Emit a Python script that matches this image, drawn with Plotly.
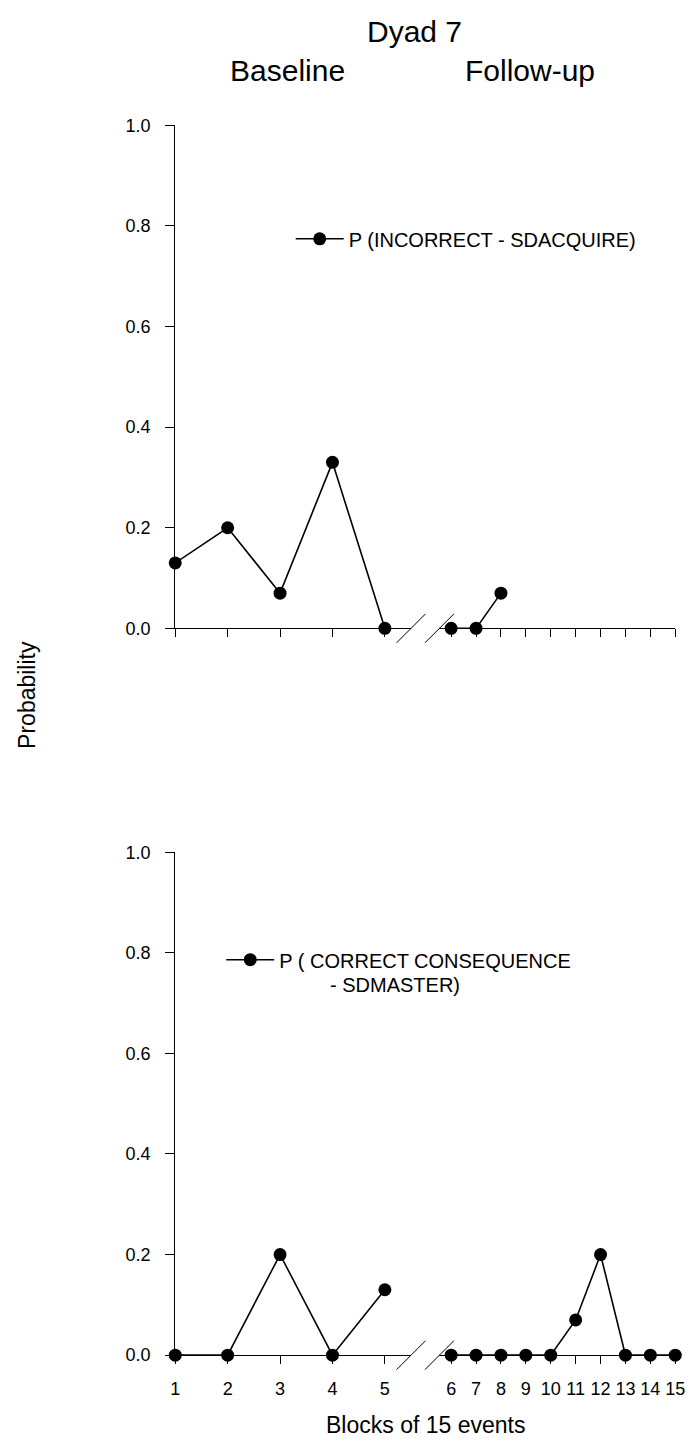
import plotly.graph_objects as go

# ---------------- data ----------------
blocks_baseline = [1, 2, 3, 4, 5]
blocks_followup_top = [6, 7, 8]
blocks_followup = [6, 7, 8, 9, 10, 11, 12, 13, 14, 15]

incorrect_baseline = [0.13, 0.20, 0.07, 0.33, 0.00]
incorrect_followup = [0.00, 0.00, 0.07]

correct_baseline = [0.00, 0.00, 0.20, 0.00, 0.13]
correct_followup = [0.00, 0.00, 0.00, 0.00, 0.00, 0.07, 0.20, 0.00, 0.00, 0.00]

y_ticks = [0.0, 0.2, 0.4, 0.6, 0.8, 1.0]
y_ticklabels = ["0.0", "0.2", "0.4", "0.6", "0.8", "1.0"]

name_top = "P (INCORRECT - SDACQUIRE)"
name_bot = "P ( CORRECT CONSEQUENCE"
name_bot_line2 = "- SDMASTER)"

# ---------------- layout geometry ----------------
W, H = 697, 1448
FONT = "Liberation Sans, Arial, Helvetica, sans-serif"

x_left_dom = [174 / W, 415 / W]
x_right_dom = [444 / W, 685 / W]
y_top_dom = [1 - 627 / H, 1 - 117 / H]
y_bot_dom = [1 - 1364 / H, 1 - 854 / H]
left_range = [1, 5.5]
right_range = [5.53, 15]

line_style = dict(color="black", width=1.6)
marker_style = dict(size=13, color="black", symbol="circle")

fig = go.Figure()

def add(x, y, xa, ya, name=None, legend=None, show=False):
    fig.add_trace(go.Scatter(
        x=x, y=y, xaxis=xa, yaxis=ya, mode="lines+markers",
        line=line_style, marker=marker_style, cliponaxis=False,
        name=name, showlegend=show, legend=legend, hoverinfo="skip"))

add(blocks_baseline, incorrect_baseline, "x", "y", name_top, "legend", True)
add(blocks_followup_top, incorrect_followup, "x2", "y2")
add(blocks_baseline, correct_baseline, "x3", "y3", name_bot, "legend2", True)
add(blocks_followup, correct_followup, "x4", "y4")

tickfont = dict(family=FONT, size=18, color="black")

def xaxis(dom, rng, vals, anchor, labels):
    return dict(domain=dom, range=rng, anchor=anchor, tickvals=vals,
                ticktext=[str(v) for v in vals], showticklabels=labels,
                ticks="outside", ticklen=8, tickwidth=1, tickcolor="black",
                showline=True, linecolor="black", linewidth=1,
                showgrid=False, zeroline=False, tickfont=tickfont,
                ticklabelstandoff=9, fixedrange=True)

def yaxis_main(dom, anchor):
    return dict(domain=dom, range=[0, 1], anchor=anchor, tickvals=y_ticks,
                ticktext=y_ticklabels, ticks="outside", ticklen=9,
                tickwidth=1, tickcolor="black", showline=True,
                linecolor="black", linewidth=1, showgrid=False,
                zeroline=False, tickfont=tickfont, ticklabelstandoff=11,
                fixedrange=True)

def yaxis_hidden(dom, anchor):
    return dict(domain=dom, range=[0, 1], anchor=anchor, visible=False,
                showgrid=False, zeroline=False, fixedrange=True)

# break marks at the axis gap (paper-referenced so they are not clipped)
shapes = []
for xpos in [x_left_dom[1], x_right_dom[0]]:
    for ypos in [y_top_dom[0], y_bot_dom[0]]:
        shapes.append(dict(type="line", xref="paper", yref="paper",
                           xsizemode="pixel", xanchor=xpos, x0=-14.5, x1=14.5,
                           ysizemode="pixel", yanchor=ypos, y0=-14.5, y1=14.5,
                           line=dict(color="black", width=1)))

title_font = dict(family=FONT, size=30, color="black")
axis_title_font = dict(family=FONT, size=23, color="black")
legend_font = dict(family=FONT, size=20, color="black")

annotations = [
    dict(text="Dyad 7", x=418 / W, y=1 - 22 / H, xref="paper", yref="paper",
         showarrow=False, font=title_font, xanchor="center", yanchor="middle"),
    dict(text="Baseline", x=289 / W, y=1 - 61 / H, xref="paper", yref="paper",
         showarrow=False, font=title_font, xanchor="center", yanchor="middle"),
    dict(text="Follow-up", x=537 / W, y=1 - 61 / H, xref="paper", yref="paper",
         showarrow=False, font=title_font, xanchor="center", yanchor="middle"),
    dict(text="Probability", x=23 / W, y=1 - 695 / H, xref="paper", yref="paper",
         showarrow=False, textangle=-90, font=axis_title_font,
         xanchor="center", yanchor="middle"),
    dict(text="Blocks of 15 events", x=430 / W, y=1 - 1435 / H, xref="paper",
         yref="paper", showarrow=False, font=axis_title_font,
         xanchor="center", yanchor="middle"),
    dict(text=name_bot_line2, x=330 / W, y=1 - 989 / H, xref="paper", yref="paper",
         showarrow=False, font=legend_font, xanchor="left", yanchor="middle"),
]

fig.update_layout(
    width=W, height=H, margin=dict(l=0, r=0, t=0, b=0),
    paper_bgcolor="white", plot_bgcolor="white",
    showlegend=True,
    xaxis=xaxis(x_left_dom, left_range, blocks_baseline, "y", False),
    xaxis2=xaxis(x_right_dom, right_range, blocks_followup, "y2", False),
    xaxis3=xaxis(x_left_dom, left_range, blocks_baseline, "y3", True),
    xaxis4=xaxis(x_right_dom, right_range, blocks_followup, "y4", True),
    yaxis=yaxis_main(y_top_dom, "x"),
    yaxis2=yaxis_hidden(y_top_dom, "x2"),
    yaxis3=yaxis_main(y_bot_dom, "x3"),
    yaxis4=yaxis_hidden(y_bot_dom, "x4"),
    legend=dict(x=292 / W, y=1 - 232 / H, xanchor="left", yanchor="middle",
                font=legend_font, bgcolor="rgba(0,0,0,0)", borderwidth=0,
                itemwidth=48, itemclick=False, itemdoubleclick=False),
    legend2=dict(x=221 / W, y=1 - 963 / H, xanchor="left", yanchor="middle",
                 font=legend_font, bgcolor="rgba(0,0,0,0)", borderwidth=0,
                 itemwidth=48, itemclick=False, itemdoubleclick=False),
    shapes=shapes,
    annotations=annotations,
)

fig.write_html("out.html")
